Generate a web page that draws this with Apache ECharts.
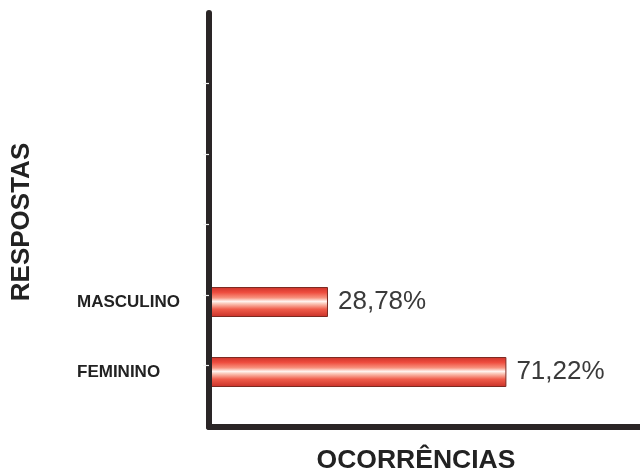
<!DOCTYPE html>
<html>
<head>
<meta charset="utf-8">
<style>
  html, body { margin: 0; padding: 0; background: #ffffff; }
  #chart { width: 640px; height: 473px; }
</style>
<script src="https://cdn.jsdelivr.net/npm/echarts@6/dist/echarts.min.js"></script>
</head>
<body>
<div id="chart"></div>
<script>
// Respostas por sexo (percentual de ocorrências)
const categories = ['MASCULINO', 'FEMININO'];
const values = [28.78, 71.22];
const yTitle = 'RESPOSTAS';
const xTitle = 'OCORRÊNCIAS';

const chart = echarts.init(document.getElementById('chart'), null, { renderer: 'canvas' });

const fmt = v => v.toFixed(2).replace('.', ',') + '%';

// cylindrical red shading of the bars
const barFill = new echarts.graphic.LinearGradient(0, 0, 0, 1, [
  { offset: 0.00, color: '#cc322a' },
  { offset: 0.18, color: '#ee4c3e' },
  { offset: 0.36, color: '#f8937f' },
  { offset: 0.48, color: '#fff4f0' },
  { offset: 0.56, color: '#fbc4b4' },
  { offset: 0.74, color: '#f05c4a' },
  { offset: 1.00, color: '#c83028' }
]);

const axisDark = '#2a2526';

chart.setOption({
  animation: false,
  backgroundColor: '#ffffff',
  grid: [
    // bars
    { left: 207, right: 0, top: 267, bottom: 66 },
    // frame (axis lines)
    { left: 209, right: 0, top: 13, bottom: 46 }
  ],
  xAxis: [
    {
      gridIndex: 0, type: 'value', min: 0, max: 103,
      axisLine: { show: false }, axisTick: { show: false },
      axisLabel: { show: false }, splitLine: { show: false }
    },
    {
      gridIndex: 1, type: 'value', min: 0, max: 1, z: 3,
      axisLine: { show: true, onZero: false, lineStyle: { color: axisDark, width: 6 } },
      axisTick: { show: false }, axisLabel: { show: false }, splitLine: { show: false }
    }
  ],
  yAxis: [
    {
      gridIndex: 0, type: 'category', data: categories, inverse: true,
      axisLine: { show: false }, axisTick: { show: false }, splitLine: { show: false },
      axisLabel: {
        margin: 130, align: 'left', color: '#222222',
        fontFamily: 'Liberation Sans, Arial, sans-serif',
        fontWeight: 'bold', fontSize: 17
      }
    },
    {
      gridIndex: 1, type: 'value', inverse: true, min: 0, max: 5.87, z: 3,
      axisLine: { show: true, onZero: false, lineStyle: { color: axisDark, width: 6 } },
      axisTick: { show: false }, axisLabel: { show: false }, splitLine: { show: false }
    },
    {
      // light tick marks across the vertical axis line
      gridIndex: 1, type: 'value', inverse: true, min: 0, max: 5.87, z: 10, offset: 3,
      axisLine: { show: false },
      axisTick: {
        show: true, inside: true, length: 6,
        customValues: [1, 2, 3, 4, 5],
        lineStyle: { color: '#f2f2f2', width: 1.2 }
      },
      axisLabel: { show: false }, splitLine: { show: false }
    }
  ],
  series: [
    {
      type: 'bar',
      xAxisIndex: 0, yAxisIndex: 0,
      data: values,
      barWidth: 30,
      z: 2,
      itemStyle: {
        color: barFill,
        borderColor: '#7d2a22',
        borderWidth: 1
      },
      label: {
        show: true,
        position: 'right',
        distance: 10,
        formatter: p => fmt(p.value),
        color: '#3a3a3a',
        fontFamily: 'Liberation Sans, Arial, sans-serif',
        fontSize: 26
      }
    }
  ],
  graphic: [
    {
      type: 'text',
      x: 22, y: 222,
      rotation: Math.PI / 2,
      style: {
        text: yTitle,
        fill: '#222222',
        font: 'bold 26px "Liberation Sans", Arial, sans-serif',
        textAlign: 'center',
        textVerticalAlign: 'middle'
      }
    },
    {
      type: 'text',
      x: 416, y: 461,
      style: {
        text: xTitle,
        fill: '#222222',
        font: 'bold 26.5px "Liberation Sans", Arial, sans-serif',
        textAlign: 'center',
        textVerticalAlign: 'middle'
      }
    }
  ]
});
</script>
</body>
</html>
